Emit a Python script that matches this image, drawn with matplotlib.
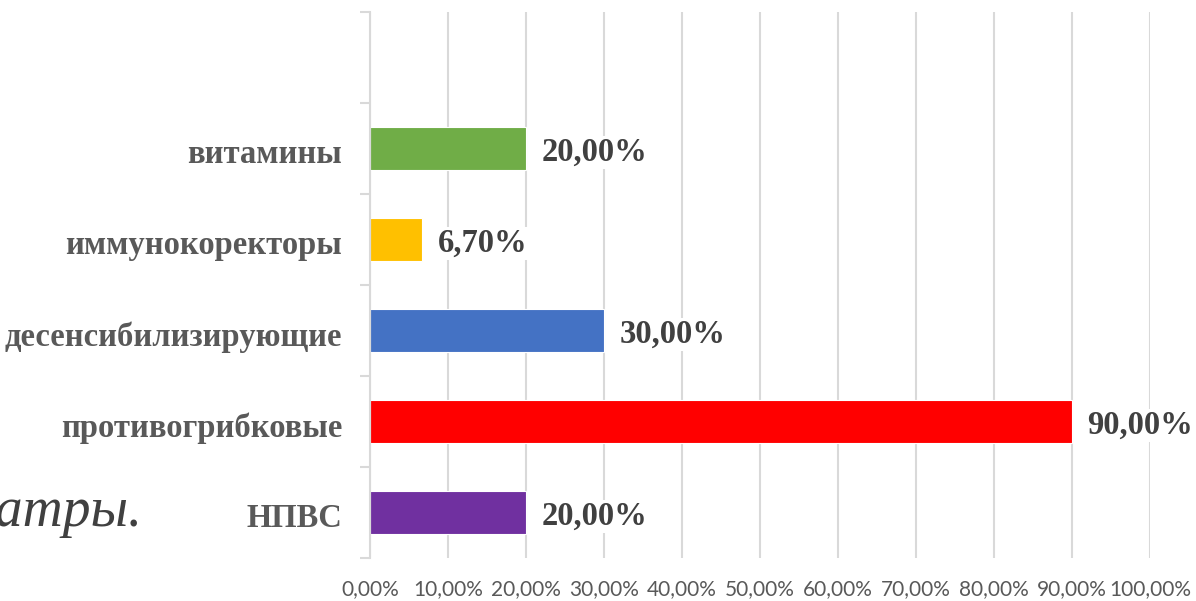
import matplotlib.pyplot as plt
import matplotlib.transforms as mtransforms
from matplotlib.ticker import FixedLocator

# Drug groups (bottom to top) and their shares, %
groups = ["НПВС", "противогрибковые", "десенсибилизирующие", "иммунокоректоры", "витамины"]
shares = [20.0, 90.0, 30.0, 6.7, 20.0]
colors = ["#7030A0", "#FF0000", "#4472C4", "#FFC000", "#70AD47"]
x_ticks = [0, 10, 20, 30, 40, 50, 60, 70, 80, 90, 100]

grey = "#595959"

fig = plt.figure(figsize=(11.96, 6.01), dpi=100)
ax = fig.add_axes([370 / 1196, 1 - 558 / 601, 780 / 1196, 546 / 601])

pos = list(range(len(groups)))
ax.barh(pos, shares, height=0.48, color=colors, edgecolor="white", linewidth=0.8, zorder=2)

ax.set_xlim(0, 100)
ax.set_ylim(-0.5, len(groups) + 0.5)  # one empty slot on top

ax.set_xticks(x_ticks)
ax.set_xticklabels([f"{v:.2f}%".replace(".", ",") for v in x_ticks],
                   fontfamily="Lato", fontsize=15, color=grey)
ax.tick_params(axis="x", length=0, pad=15)
ax.grid(axis="x", color="#D9D9D9", linewidth=1.5, zorder=0)

ax.set_yticks(pos)
ax.set_yticklabels(groups, fontfamily="Liberation Serif", fontweight="bold",
                   fontsize=23.5, color=grey)
ax.tick_params(axis="y", length=0, pad=20)
# nudge the category names slightly down
shift = mtransforms.ScaledTranslation(0, -2 / 72, fig.dpi_scale_trans)
for lbl in ax.get_yticklabels():
    lbl.set_transform(lbl.get_transform() + shift)
ax.yaxis.set_minor_locator(FixedLocator([p - 0.5 for p in range(len(groups) + 2)]))
ax.tick_params(axis="y", which="minor", length=7, width=1.5, color="#D9D9D9")

for s in ["top", "right", "bottom"]:
    ax.spines[s].set_visible(False)
ax.spines["left"].set_color("#D9D9D9")
ax.spines["left"].set_linewidth(1.5)

for p, v in zip(pos, shares):
    ax.annotate(f"{v:.2f}%".replace(".", ","), xy=(v, p), xytext=(11, -3),
                textcoords="offset points", ha="left", va="center",
                fontfamily="Liberation Serif", fontweight="bold", fontsize=23.5,
                color="#404040", zorder=3,
                bbox=dict(facecolor="white", edgecolor="none", pad=1))

# tail of a sentence from the surrounding text
fig.text(142 / 1196, 1 - 526 / 601, "педиатры.", ha="right", va="baseline",
         fontfamily="Liberation Serif", fontstyle="italic", fontsize=40, color="#404040")

fig.savefig("out.png", dpi=100)
